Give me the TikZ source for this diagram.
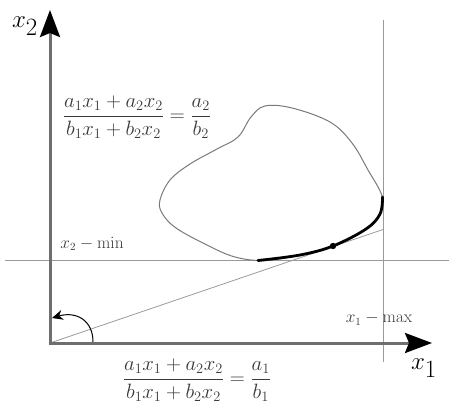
\documentclass[tikz,border=0pt]{standalone}
\usepackage{amsmath}
\usetikzlibrary{arrows.meta}
\definecolor{axisgray}{HTML}{6E6E6E}
\definecolor{thingray}{HTML}{9A9A9A}
\definecolor{blobgray}{HTML}{7A7A7A}
\definecolor{txt}{HTML}{3A3A3A}
\begin{document}
\begin{tikzpicture}[x=1pt,y=-1pt,
  axisline/.style={line width=3pt, draw=axisgray, -{Stealth[length=27pt,width=20pt,inset=4pt,color=black]}},
  guide/.style={line width=0.8pt, draw=thingray},
  blobline/.style={line width=1pt, draw=blobgray},
  hull/.style={line width=2.8pt, draw=black, line cap=round},
  eqn/.style={text=txt, font=\fontsize{21.5}{25}\selectfont, inner sep=0pt},
  biglabel/.style={text=black, font=\fontsize{40}{42}\selectfont, inner sep=0pt},
  smalllabel/.style={text=txt, font=\fontsize{16}{18}\selectfont, inner sep=0pt}]
\useasboundingbox (0,0) rectangle (449,406);
% coordinates
\coordinate (O) at (50,343);
\coordinate (Ystart) at (50,344.5);
\coordinate (Ytip) at (50,10);
\coordinate (Xstart) at (48.5,343);
\coordinate (Xtip) at (432,343);
\coordinate (Vtop) at (383,20);
\coordinate (Vbot) at (383,362);
\coordinate (Hl) at (5,260);
\coordinate (Hr) at (449,260);
\coordinate (Send) at (383,229.5);
\coordinate (T) at (333,246);
\coordinate (Astart) at (93,342);
\coordinate (Aend) at (52,318);
% guide lines
\draw[guide] (Vtop) -- (Vbot);
\draw[guide] (Hl) -- (Hr);
\draw[guide] (O) -- (Send);
% blob
\draw[blobline] plot[smooth cycle, tension=0.6] coordinates {
 (160,200) (170,180) (190,164) (217,149) (238,137) (251,117) (265,106)
 (292,108) (330,122) (352,143) (368,170) (382,196) (380,214) (366,229)
 (333,246) (300,255) (265,260.5) (235,257) (207,245) (176,228) (162,213)};
% thick arc
\draw[hull] plot[smooth, tension=0.6] coordinates {
 (258,260.5) (300,255) (333,246) (366,229) (380,214) (382.5,197)};
\fill (T) circle (3.2pt);
% axes
\draw[axisline] (Ystart) -- (Ytip);
\draw[axisline] (Xstart) -- (Xtip);
% angle arrow
\draw[line width=1pt, draw=black, -{Stealth[length=11pt,width=10pt]}]
  (Astart) .. controls (93,320) and (76,311) .. (Aend);
% labels
\node[biglabel] (lx2) at (25,26) {$x_2$};
\node[biglabel] (lx1) at (424,368) {$x_1$};
\node[smalllabel] (lmin) at (92,244) {$x_2-\mathrm{min}$};
\node[smalllabel] (lmax) at (379,319) {$x_1-\mathrm{max}$};
\node[eqn] (eq1) at (137,117) {$\dfrac{a_1x_1+a_2x_2}{b_1x_1+b_2x_2}=\dfrac{a_2}{b_2}$};
\node[eqn] (eq2) at (197,380) {$\dfrac{a_1x_1+a_2x_2}{b_1x_1+b_2x_2}=\dfrac{a_1}{b_1}$};
\end{tikzpicture}
\end{document}
